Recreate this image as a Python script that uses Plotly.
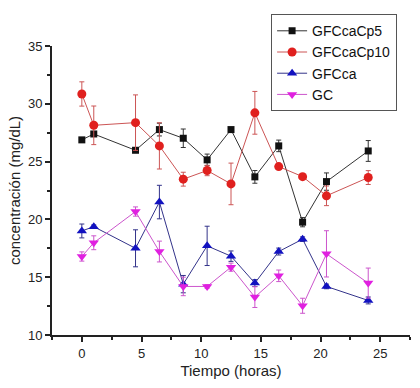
import plotly.graph_objects as go

tiempo = [0, 1, 4.5, 6.5, 8.5, 10.5, 12.5, 14.5, 16.5, 18.5, 20.5, 24]

cp5 = [26.88, 27.39, 25.98, 27.77, 27.02, 25.15, 27.77, 23.68, 26.36, 19.76, 23.27, 25.92]
cp5_err = [0.15, 0.2, 0.1, 0.55, 0.8, 0.5, 0.15, 0.55, 0.5, 0.4, 0.75, 0.9]

cp10 = [30.85, 28.14, 28.37, 26.36, 23.48, 24.23, 23.07, 29.22, 24.57, 23.70, 22.04, 23.62]
cp10_err = [1.05, 1.67, 2.4, 2.0, 0.6, 0.45, 1.8, 1.85, 0.15, 0.1, 0.85, 0.6]

gfcca = [19.0, 19.37, 17.5, 21.5, 14.4, 17.71, 16.82, 14.49, 17.22, 18.29, 14.2, 12.99]
gfcca_err = [0.6, 0.15, 1.6, 1.45, 0.75, 1.7, 0.45, 0.3, 0.3, 0.2, 0.2, 0.3]

gc = [16.79, 17.98, 20.68, 17.22, 14.2, 14.2, 15.87, 13.28, 15.12, 12.53, 17.02, 14.49]
gc_err = [0.4, 0.6, 0.4, 0.9, 0.8, 0.15, 0.35, 0.9, 0.5, 0.65, 2.0, 1.3]

series = [
    ("GFCcaCp5", cp5, cp5_err, "#111111", "#333333", "square", 7),
    ("GFCcaCp10", cp10, cp10_err, "#e0201e", "#cc5555", "circle", 9),
    ("GFCca", gfcca, gfcca_err, "#1212c0", "#33338a", "triangle-up", 9),
    ("GC", gc, gc_err, "#e020e0", "#cc55cc", "triangle-down", 9),
]

fig = go.Figure()
for name, vals, errs, mcol, lcol, sym, size in series:
    fig.add_trace(go.Scatter(
        x=tiempo, y=vals, name=name, mode="lines+markers",
        line=dict(color=lcol, width=1),
        marker=dict(color=mcol, symbol=sym, size=size),
        error_y=dict(type="data", array=errs, visible=True, color=lcol, thickness=1, width=2.5),
    ))

fig.update_layout(
    width=420, height=388,
    margin=dict(l=52, r=10, t=46, b=53, autoexpand=False),
    paper_bgcolor="white", plot_bgcolor="white",
    font=dict(family="Liberation Sans, Arial, sans-serif", color="#222222", size=13),
    showlegend=True,
    legend=dict(
        x=0.612, y=1.11, xanchor="left", yanchor="top",
        bgcolor="white", bordercolor="#555555", borderwidth=1,
        font=dict(size=14, color="#111111"),
        tracegroupgap=0, itemwidth=30,
    ),
)
fig.update_xaxes(
    range=[-2.5, 27.5], tickvals=[0, 5, 10, 15, 20, 25], automargin=False,
    showgrid=False, zeroline=False,
    showline=True, linecolor="#222222", linewidth=2,
    ticks="outside", ticklen=5, tickwidth=1.5, tickcolor="#222222",
    minor=dict(ticks="outside", ticklen=3, dtick=2.5, tick0=0, tickcolor="#222222", showgrid=False),
    title=dict(text="Tiempo (horas)", font=dict(size=15), standoff=6),
    tickfont=dict(size=13),
)
fig.update_yaxes(
    range=[10, 35], tickvals=[10, 15, 20, 25, 30, 35], automargin=False,
    showgrid=False, zeroline=False,
    showline=True, linecolor="#222222", linewidth=2,
    ticks="outside", ticklen=5, tickwidth=1.5, tickcolor="#222222",
    minor=dict(ticks="outside", ticklen=3, dtick=2.5, tick0=0, tickcolor="#222222", showgrid=False),
    title=dict(text="concentración (mg/dL)", font=dict(size=15), standoff=4),
    tickfont=dict(size=13),
)

fig.write_html(
    "out.html",
    config={"displayModeBar": False},
    post_script="document.body.style.margin='0';document.body.style.padding='0';",
)
